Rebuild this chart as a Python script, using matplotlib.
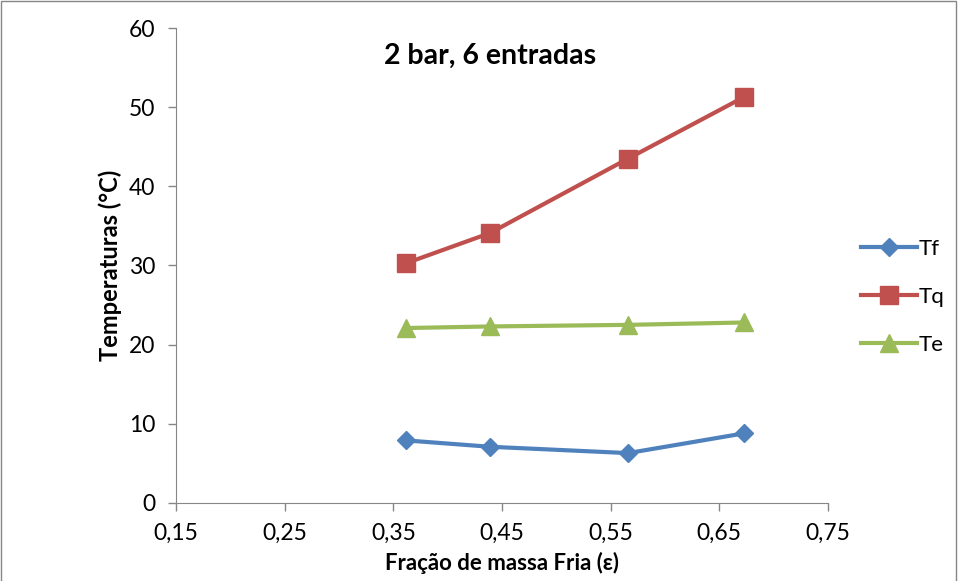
import matplotlib.pyplot as plt
from matplotlib.patches import Rectangle

plt.rcParams['font.family'] = ['Lato', 'DejaVu Sans']

# fração de massa fria
eps = [0.362, 0.439, 0.566, 0.673]
# temperaturas
tf = [7.9, 7.1, 6.3, 8.8]
tq = [30.3, 34.1, 43.5, 51.3]
te = [22.1, 22.3, 22.5, 22.8]

xticks = [0.15, 0.25, 0.35, 0.45, 0.55, 0.65, 0.75]
yticks = [0, 10, 20, 30, 40, 50, 60]

fig = plt.figure(figsize=(9.58, 5.81), dpi=100)
ax = fig.add_axes([0.1837, 0.1343, 0.6806, 0.8175])

ax.plot(eps, tf, color='#4F81BD', lw=3, marker='D', ms=9.5, label='Tf')
ax.plot(eps, tq, color='#C0504D', lw=3, marker='s', ms=12.5, label='Tq')
ax.plot(eps, te, color='#9BBB59', lw=3, marker='^', ms=13, label='Te')

ax.set_xlim(0.15, 0.75)
ax.set_ylim(0, 60)
ax.set_xticks(xticks)
ax.set_xticklabels([('%.2f' % v).replace('.', ',') for v in xticks])
ax.set_yticks(yticks)
ax.tick_params(labelsize=16.5, length=6, color='#868686', width=1)
ax.tick_params(axis='y', pad=9)
ax.tick_params(axis='x', pad=8)
for s in ['top', 'right']:
    ax.spines[s].set_visible(False)
for s in ['left', 'bottom']:
    ax.spines[s].set_color('#868686')

ax.set_xlabel('Fração de massa Fria (ε)', fontsize=16, fontweight='bold', labelpad=6)
ax.set_ylabel('Temperaturas (°C)', fontsize=17, fontweight='bold', labelpad=5)
ax.text(0.482, 0.968, '2 bar, 6 entradas', transform=ax.transAxes,
        fontsize=20.5, fontweight='bold', ha='center', va='top')

ax.legend(loc='center left', bbox_to_anchor=(1.02, 0.434), frameon=False,
          fontsize=16, handlelength=2.5, labelspacing=1.25, handletextpad=0.1)

# moldura do gráfico
fig.patches.append(Rectangle((0.001, -0.05), 0.997, 1.049, transform=fig.transFigure,
                             fill=False, edgecolor='#868686', lw=1))

fig.savefig('out.png', dpi=100)
